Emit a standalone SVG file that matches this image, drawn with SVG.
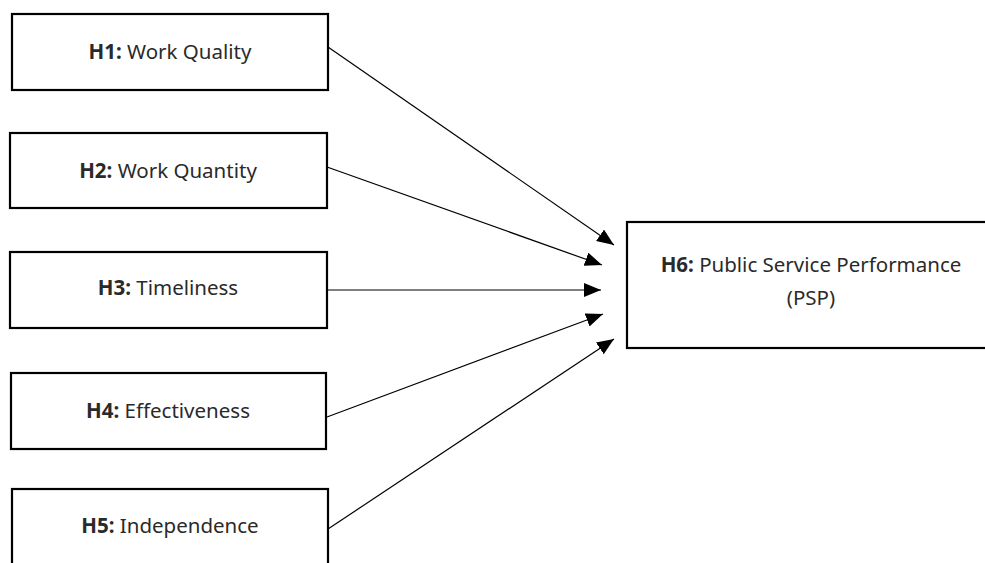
<svg xmlns="http://www.w3.org/2000/svg" width="985" height="563" viewBox="0 0 985 563">
<style>
.box{fill:#fff;stroke:#000;stroke-width:2.2}
.t{font-family:"Noto Sans","Open Sans",sans-serif;font-size:20.5px;fill:#2a2a2a;text-anchor:middle}
.b{font-weight:bold}
.c{stroke:#000;stroke-width:1.2;fill:none}
</style>
<defs>
<marker id="ah" markerUnits="userSpaceOnUse" markerWidth="18" markerHeight="14" refX="17" refY="7" orient="auto">
<path d="M0,0 L17,7 L0,14 z" fill="#000"/>
</marker>
</defs>
<rect width="985" height="563" fill="#fff"/>
<g id="connectors">
<line class="c" x1="328" y1="47" x2="614" y2="245" marker-end="url(#ah)"/>
<line class="c" x1="327" y1="167" x2="602" y2="265" marker-end="url(#ah)"/>
<line class="c" x1="327" y1="290" x2="601" y2="290" marker-end="url(#ah)"/>
<line class="c" x1="327" y1="417" x2="603" y2="314" marker-end="url(#ah)"/>
<line class="c" x1="328" y1="529" x2="614" y2="339" marker-end="url(#ah)"/>
</g>
<g id="h1"><rect class="box" x="12" y="14" width="316" height="76"/><text class="t" x="170" y="59"><tspan class="b">H1:</tspan> Work Quality</text></g>
<g id="h2"><rect class="box" x="10" y="133" width="317" height="75"/><text class="t" x="168" y="178"><tspan class="b">H2:</tspan> Work Quantity</text></g>
<g id="h3"><rect class="box" x="10" y="252" width="317" height="76"/><text class="t" x="168" y="295"><tspan class="b">H3:</tspan> Timeliness</text></g>
<g id="h4"><rect class="box" x="11" y="373" width="315" height="76"/><text class="t" x="168" y="418"><tspan class="b">H4:</tspan> Effectiveness</text></g>
<g id="h5"><rect class="box" x="12" y="489" width="316" height="90"/><text class="t" x="170" y="533"><tspan class="b">H5:</tspan> Independence</text></g>
<g id="h6"><rect class="box" x="627" y="222" width="370" height="126"/><text class="t" x="811" y="272"><tspan class="b">H6:</tspan> Public Service Performance</text><text class="t" x="811" y="305">(PSP)</text></g>
</svg>
